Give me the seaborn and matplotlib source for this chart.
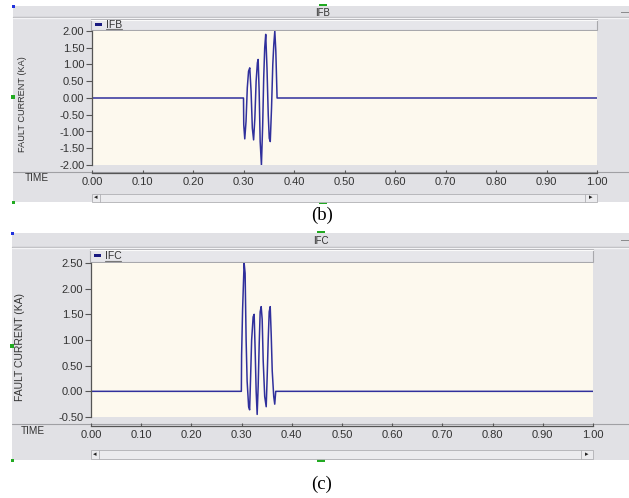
import matplotlib
matplotlib.use("Agg")
import matplotlib.pyplot as plt
from matplotlib.patches import Rectangle
import seaborn as sns
import pandas as pd

# ---------------- data ----------------
ifb_time = [0.0000, 0.3000, 0.3005, 0.3025, 0.3050, 0.3075, 0.3100, 0.3124, 0.3150,
            0.3175, 0.3200, 0.3225, 0.3250, 0.3275, 0.3290, 0.3310, 0.3330, 0.3355,
            0.3380, 0.3400, 0.3420, 0.3440, 0.3465, 0.3490, 0.3510, 0.3530, 0.3555,
            0.3580, 0.3600, 0.3620, 0.3640, 0.3665, 1.0000]
ifb_value = [0.00, 0.00, -0.80, -1.22, -0.70, 0.30, 0.80, 0.90, 0.20,
             -0.90, -1.25, -0.60, 0.50, 1.05, 1.15, 0.20, -1.30, -2.00,
             -0.80, 0.60, 1.50, 1.90, 0.90, -0.50, -1.20, -1.30, -0.30,
             1.00, 1.60, 2.00, 1.40, 0.00, 0.00]

ifc_time = [0.0000, 0.2995, 0.3000, 0.3020, 0.3050, 0.3070, 0.3090, 0.3110, 0.3140,
            0.3160, 0.3180, 0.3200, 0.3230, 0.3250, 0.3270, 0.3290, 0.3310, 0.3330,
            0.3350, 0.3370, 0.3390, 0.3410, 0.3430, 0.3460, 0.3490, 0.3510, 0.3530,
            0.3550, 0.3570, 0.3590, 0.3610, 0.3640, 0.3660, 0.3680, 1.0000]
ifc_value = [0.00, 0.00, 0.70, 1.60, 2.50, 2.30, 1.00, 0.20, -0.30,
             -0.36, 0.30, 1.00, 1.45, 1.50, 0.80, 0.00, -0.45, 0.10,
             0.90, 1.55, 1.65, 1.40, 0.60, -0.10, -0.30, 0.30, 1.00,
             1.55, 1.65, 1.10, 0.40, -0.10, -0.25, 0.00, 0.00]

x_ticks = [0.0, 0.1, 0.2, 0.3, 0.4, 0.5, 0.6, 0.7, 0.8, 0.9, 1.0]
ifb_yticks = [2.0, 1.5, 1.0, 0.5, 0.0, -0.5, -1.0, -1.5, -2.0]
ifc_yticks = [2.5, 2.0, 1.5, 1.0, 0.5, 0.0, -0.5]

# ---------------- styling ----------------
sns.set_theme(style="white")
plt.rcParams['font.family'] = ['Liberation Sans', 'DejaVu Sans']

W, H = 629, 498
GRAY = '#e1e1e5'
CREAM = '#fdf9ee'
LINE = '#30309c'
TXT = '#333333'

fig = plt.figure(figsize=(W / 100, H / 100), dpi=100)
fig.patch.set_facecolor('white')

bg = fig.add_axes([0, 0, 1, 1])
bg.set_xlim(0, W)
bg.set_ylim(H, 0)
bg.axis('off')


def fr(x0, y0, x1, y1):
    return [x0 / W, 1 - y1 / H, (x1 - x0) / W, (y1 - y0) / H]


def panel(cfg, t, v, yticks, name, ylab_fs):
    wx0, wy0, wx1, wy1 = cfg['win']
    # window
    bg.add_patch(Rectangle((wx0, wy0), wx1 - wx0, wy1 - wy0, facecolor=GRAY, edgecolor='none'))
    # title bar
    bg.plot([wx0, wx1], [cfg['tbar'], cfg['tbar']], color='#b8b8bc', lw=1)
    bg.plot([wx0, wx1], [cfg['tbar'] + 1, cfg['tbar'] + 1], color='#f4f4f6', lw=1)
    bg.text(cfg['title'][0], cfg['title'][1], name, ha='center', va='center', fontsize=7, color=TXT)
    bg.add_patch(Rectangle((cfg['title'][0] - 4, wy0 - 2.5), 8, 2.5, facecolor='#22aa22', edgecolor='none'))
    bg.text(wx1 - 4, cfg['title'][1], '\u2014', ha='center', va='center', fontsize=6, color=TXT)
    # left / bottom markers
    bg.add_patch(Rectangle((wx0 - 1.5, wy0 - 1.5), 3, 3, facecolor='#2233dd', edgecolor='none'))
    bg.add_patch(Rectangle((wx0 - 2, cfg['midy'] - 2), 4, 4, facecolor='#22aa22', edgecolor='none'))
    bg.add_patch(Rectangle((wx0 - 1.5, wy1 - 1.5), 3, 3, facecolor='#22aa22', edgecolor='none'))
    bg.add_patch(Rectangle((cfg['title'][0] - 4, wy1 - 1.5), 8, 3, facecolor='#22aa22', edgecolor='none'))
    # legend strip
    lx0, ly0, lx1, ly1 = cfg['leg']
    bg.add_patch(Rectangle((lx0, ly0), lx1 - lx0, ly1 - ly0, facecolor='#e6e6ea',
                           edgecolor='#a8a8ac', lw=0.8))
    bg.plot([lx0, lx1], [ly0 + 1, ly0 + 1], color='#fafafa', lw=0.8)
    bg.add_patch(Rectangle((lx0 + 4, (ly0 + ly1) / 2 - 2), 7, 3.5, facecolor='#1a1a80', edgecolor='none'))
    bg.text(lx0 + 15, (ly0 + ly1) / 2, name, ha='left', va='center', fontsize=7.5, color=TXT)
    bg.plot([lx0 + 15, lx0 + 31], [ly1 - 1.2, ly1 - 1.2], color='#777777', lw=0.8)
    # separator under plot
    bg.plot([wx0, wx1], [cfg['sep'], cfg['sep']], color='#a0a0a4', lw=0.8)
    # TIME
    bg.text(cfg['time'][0], cfg['time'][1], 'TIME', ha='center', va='center', fontsize=7.2, color=TXT)
    # scrollbar
    sx0, sy0, sx1, sy1 = cfg['scroll']
    bg.add_patch(Rectangle((sx0, sy0), sx1 - sx0, sy1 - sy0, facecolor='#ebebee',
                           edgecolor='#b0b0b4', lw=0.6))
    bg.text(sx0 + 4, (sy0 + sy1) / 2, '\u25c2', ha='center', va='center', fontsize=5, color='#222222')
    bg.text(sx1 - 6, (sy0 + sy1) / 2, '\u25b8', ha='center', va='center', fontsize=5, color='#222222')
    bg.plot([sx0 + 8, sx0 + 8], [sy0, sy1], color='#b0b0b4', lw=0.6)
    bg.plot([sx1 - 12, sx1 - 12], [sy0, sy1], color='#b0b0b4', lw=0.6)
    # y label
    bg.text(cfg['ylab'][0], cfg['ylab'][1], 'FAULT CURRENT (KA)', rotation=90,
            ha='center', va='center', fontsize=ylab_fs, color=TXT)
    # caption
    bg.text(cfg['cap'][0], cfg['cap'][1], cfg['captxt'], ha='center', va='center',
            fontsize=13.5, family='Liberation Serif', color='black')

    # data axes
    px0, py0, px1, py1 = cfg['plot']
    ax = fig.add_axes(fr(px0, py0, px1, py1))
    ax.set_facecolor(CREAM)
    df = pd.DataFrame({'t': t, 'v': v})
    sns.lineplot(data=df, x='t', y='v', ax=ax, color=LINE, linewidth=1.1,
                 estimator=None, sort=False)
    ax.set_xlim(0, 1)
    ax.set_ylim(min(yticks), max(yticks))
    ax.set_xlabel('')
    ax.set_ylabel('')
    ax.set_xticks(x_ticks)
    ax.set_xticklabels([f'{x:.2f}' for x in x_ticks])
    ax.set_yticks(yticks)
    ax.set_yticklabels([f'{y:.2f}' for y in yticks])
    for s in ['top', 'right']:
        ax.spines[s].set_visible(False)
    ax.spines['left'].set_color('#555555')
    ax.spines['left'].set_linewidth(0.9)
    ax.spines['bottom'].set_color('#555555')
    ax.spines['bottom'].set_linewidth(0.9)
    ax.spines['bottom'].set_position(('outward', cfg['xoff'] * 0.72))
    ax.tick_params(axis='y', direction='out', length=4, width=0.8, color='#555555',
                   labelsize=8, labelcolor=TXT, pad=1.5, left=True)
    ax.tick_params(axis='x', direction='in', length=2.5, width=0.8, color='#555555',
                   labelsize=8, labelcolor=TXT, pad=3, bottom=True)
    ax.grid(False)
    return ax


cfg_b = dict(win=(13, 6, 629, 202), tbar=17, title=(323, 12.5), midy=97,
             leg=(91, 19, 597, 30), plot=(92, 31, 597, 165), sep=172, xoff=8,
             time=(37, 178), scroll=(92, 194, 597, 202), ylab=(23, 104),
             cap=(322, 215), captxt='(b)')
cfg_c = dict(win=(12, 233, 629, 460), tbar=247, title=(321, 241), midy=346,
             leg=(90, 249, 593, 262), plot=(91, 263, 593, 417), sep=424, xoff=9,
             time=(33, 431), scroll=(91, 450, 593, 459), ylab=(20, 347),
             cap=(322, 484), captxt='(c)')

panel(cfg_b, ifb_time, ifb_value, ifb_yticks, 'IFB', 6.6)
panel(cfg_c, ifc_time, ifc_value, ifc_yticks, 'IFC', 7.5)

fig.savefig('out.png', dpi=100, facecolor='white')
